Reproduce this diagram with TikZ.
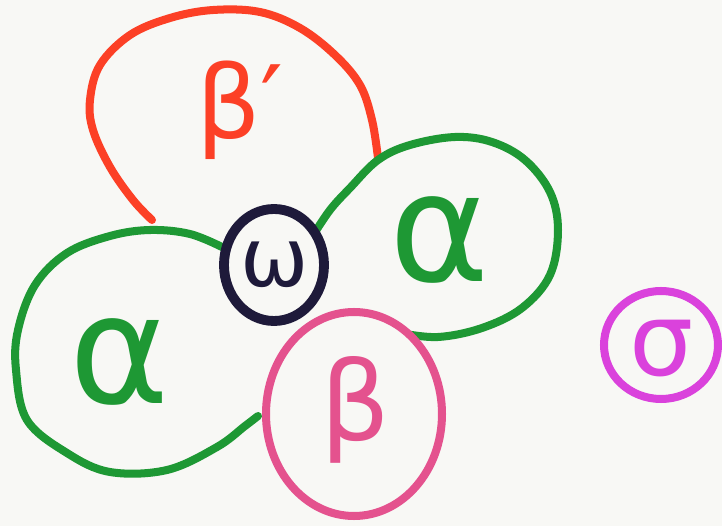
\documentclass[tikz,border=0pt]{standalone}
\usepackage{fontspec}
\setmainfont{DejaVu Sans}
\usepackage{xcolor}
\usepackage{tikz}
\usetikzlibrary{positioning}
\definecolor{paper}{RGB}{248,248,245}
\definecolor{penred}{RGB}{252,64,38}
\definecolor{pengreen}{RGB}{30,152,52}
\definecolor{pennavy}{RGB}{30,26,58}
\definecolor{penpink}{RGB}{228,82,142}
\definecolor{penmagenta}{RGB}{218,66,220}
\tikzset{
  pen/.style={line width=5.7pt, line cap=round, line join=round},
  thickpen/.style={line width=7pt, line cap=round, line join=round},
  glyph/.style={inner sep=0pt, font=\fontsize{#1}{#1}\selectfont}
}

\begin{document}
\begin{tikzpicture}[x=0.025cm, y=-0.025cm]
  % Paper
  \fill[paper] (0,0) rectangle (722,526);

  % beta' region (open red loop)
  \draw[pen, penred] plot[smooth, tension=0.6] coordinates {
    (152,220) (133,200) (110,167) (93,130) (90,100) (100,65) (130,35)
    (170,18) (213,10) (260,12) (300,28) (335,55) (360,85) (372,120) (378,158)};

  % alpha regions (green loops)
  \draw[pen, pengreen] plot[smooth, tension=0.6] coordinates {
    (312,237) (330,210) (350,188) (378,160) (410,145) (455,137) (492,142)
    (525,160) (550,192) (558,230) (550,275) (522,308) (482,328) (438,337) (400,333)};
  \draw[pen, pengreen] plot[smooth, tension=0.6] coordinates {
    (224,248) (190,234) (150,230) (110,236) (67,253) (35,285) (18,330)
    (16,370) (27,420) (67,453) (110,472) (167,470) (217,447) (245,426) (258,416)};

  % beta circle
  \draw[pen, penpink, fill=paper] (354,414) ellipse [x radius=88, y radius=102];

  % omega circle
  \draw[thickpen, pennavy, fill=paper] (274,265) ellipse [x radius=50, y radius=56];

  % sigma circle
  \draw[pen, penmagenta] (661,345) ellipse [x radius=57, y radius=54];

  % Labels
  \node[glyph=72, text=penred] (betap) at (240,110) {β′};
  \node[glyph=108, text=pengreen] (alphaR) at (440,240) {α};
  \node[glyph=108, text=pengreen] (alphaL) at (120,362) {α};
  \node[glyph=58, text=pennavy] (omega) at (275,265) {ω};
  \node[glyph=78, text=penpink] (beta) at (355,410) {β};
  \node[glyph=72, text=penmagenta] (sigma) at (662,349) {σ};
\end{tikzpicture}
\end{document}
